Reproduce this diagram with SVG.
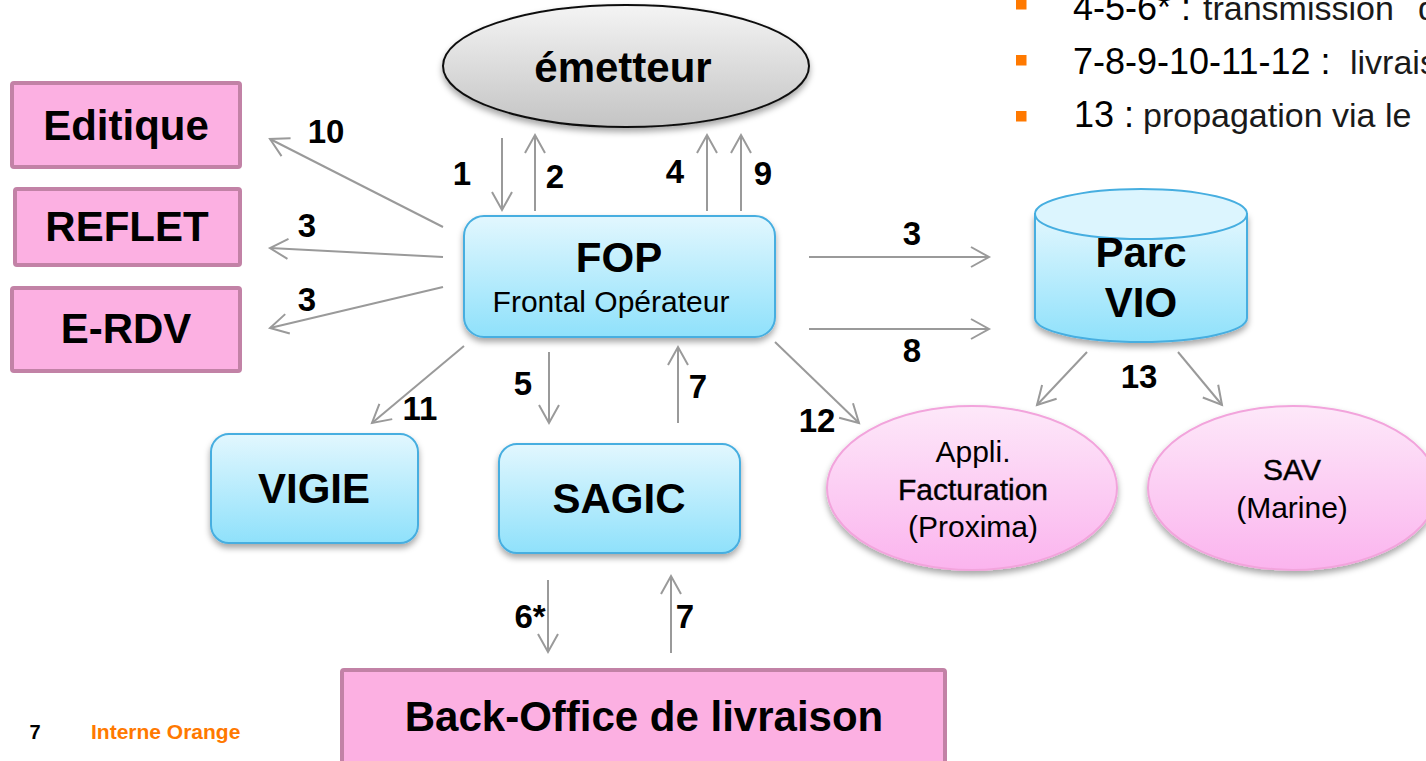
<svg xmlns="http://www.w3.org/2000/svg" width="1426" height="761" viewBox="0 0 1426 761">
<defs>
<linearGradient id="gCyan" x1="0" y1="0" x2="0" y2="1"><stop offset="0" stop-color="#e2f7fe"/><stop offset="1" stop-color="#8fe1fb"/></linearGradient>
<linearGradient id="gPink" x1="0" y1="0" x2="0" y2="1"><stop offset="0" stop-color="#fde8f9"/><stop offset="1" stop-color="#fbb4ee"/></linearGradient>
<linearGradient id="gGrey" x1="0" y1="0" x2="0" y2="1"><stop offset="0" stop-color="#f4f4f4"/><stop offset="1" stop-color="#c4c4c4"/></linearGradient>
<filter id="sh" x="-10%" y="-10%" width="120%" height="130%"><feDropShadow dx="0" dy="4" stdDeviation="3" flood-color="#000" flood-opacity="0.35"/></filter>
<marker id="ah" markerUnits="userSpaceOnUse" markerWidth="24" markerHeight="24" viewBox="-20 -12 22 24" refX="0" refY="0" orient="auto"><path d="M-18,-10 L0,0 L-18,10" fill="none" stroke="#9a9a9a" stroke-width="2"/></marker>
</defs>
<style>
.pinkbox{fill:#fcb0e2;stroke:#c282a6;stroke-width:4}
.cyan{fill:url(#gCyan);stroke:#46aee0;stroke-width:2;filter:url(#sh)}
.pell{fill:url(#gPink);stroke:#f2a4dc;stroke-width:2;filter:url(#sh)}
.lbl{font-family:"Liberation Sans",Arial,sans-serif;font-weight:bold;font-size:42px;fill:#000;text-anchor:middle}
.sub{font-family:"Liberation Sans",Arial,sans-serif;font-size:30px;fill:#000;text-anchor:middle}
.med{stroke:#000;stroke-width:0.4}
.num{font-family:"Liberation Sans",Arial,sans-serif;font-weight:bold;font-size:33px;fill:#000;text-anchor:middle}
.conn line{stroke:#9a9a9a;stroke-width:2;marker-end:url(#ah)}
.leg{font-family:"Liberation Sans",Arial,sans-serif;font-size:36px;fill:#000}
.legd{font-size:34px;fill:#1a1a1a}
.bul{fill:#ff7900}
</style>
<rect width="1426" height="761" fill="#fff"/>

<g id="legend">
<rect class="bul" x="1016" y="-1" width="10.5" height="10.5"/>
<rect class="bul" x="1016" y="55" width="10.5" height="10.5"/>
<rect class="bul" x="1016" y="111" width="10.5" height="10.5"/>
<text class="leg" x="1073" y="20">4-5-6* :<tspan class="legd" x="1203">transmission</tspan><tspan class="legd" x="1418">d</tspan></text>
<text class="leg" x="1073" y="74">7-8-9-10-11-12 :<tspan class="legd" x="1350">livrais</tspan></text>
<text class="leg" x="1074" y="127">13 :<tspan class="legd" x="1143">propagation via le</tspan></text>
</g>

<g id="emetteur">
<ellipse cx="626" cy="66" rx="183" ry="61" fill="url(#gGrey)" stroke="#111" stroke-width="2" filter="url(#sh)"/>
<text class="lbl" x="623" y="82">émetteur</text>
</g>

<g id="editique">
<rect class="pinkbox" x="12" y="83" width="228" height="84" rx="2"/>
<text class="lbl" x="126" y="140">Editique</text>
</g>
<g id="reflet">
<rect class="pinkbox" x="15" y="189" width="225" height="76" rx="2"/>
<text class="lbl" x="127" y="241">REFLET</text>
</g>
<g id="erdv">
<rect class="pinkbox" x="12" y="288" width="228" height="83" rx="2"/>
<text class="lbl" x="126" y="343">E-RDV</text>
</g>

<g id="fop">
<rect class="cyan" x="464" y="216" width="311" height="121" rx="20"/>
<text class="lbl" x="619" y="272">FOP</text>
<text class="sub" x="611" y="312">Frontal Opérateur</text>
</g>

<g id="parcvio">
<path class="cyan" d="M1035,214 L1035,318 A106,24 0 0 0 1247,318 L1247,214 Z"/>
<ellipse cx="1141" cy="214" rx="106" ry="25" fill="#dcf5fe" stroke="#46aee0" stroke-width="2"/>
<text class="lbl" x="1141" y="267">Parc</text>
<text class="lbl" x="1141" y="317">VIO</text>
</g>

<g id="vigie">
<rect class="cyan" x="211" y="434" width="207" height="109" rx="18"/>
<text class="lbl" x="314" y="503">VIGIE</text>
</g>

<g id="sagic">
<rect class="cyan" x="499" y="444" width="241" height="109" rx="18"/>
<text class="lbl" x="619" y="513">SAGIC</text>
</g>

<g id="facturation">
<ellipse class="pell" cx="972" cy="488" rx="145" ry="82"/>
<text class="sub" x="973" y="462">Appli.</text>
<text class="sub med" x="973" y="500">Facturation</text>
<text class="sub" x="973" y="537">(Proxima)</text>
</g>

<g id="sav">
<ellipse class="pell" cx="1293" cy="488" rx="145" ry="82"/>
<text class="sub med" x="1292" y="480">SAV</text>
<text class="sub" x="1292" y="518">(Marine)</text>
</g>

<g id="backoffice">
<rect class="pinkbox" x="342" y="670" width="603" height="100" rx="2"/>
<text class="lbl" x="644" y="731">Back-Office de livraison</text>
</g>

<g id="connectors" class="conn">
<line x1="502" y1="138" x2="502" y2="210"/>
<line x1="535" y1="211" x2="535" y2="135"/>
<line x1="707" y1="211" x2="707" y2="135"/>
<line x1="741" y1="211" x2="741" y2="135"/>
<line x1="443" y1="227" x2="270" y2="139"/>
<line x1="443" y1="257" x2="270" y2="248"/>
<line x1="443" y1="287" x2="270" y2="328"/>
<line x1="809" y1="257" x2="989" y2="257"/>
<line x1="809" y1="329" x2="989" y2="329"/>
<line x1="464" y1="346" x2="372" y2="423"/>
<line x1="549" y1="352" x2="549" y2="423"/>
<line x1="678" y1="423" x2="678" y2="347"/>
<line x1="775" y1="342" x2="859" y2="423"/>
<line x1="1087" y1="352" x2="1037" y2="405"/>
<line x1="1178" y1="352" x2="1222" y2="405"/>
<line x1="548" y1="580" x2="548" y2="652"/>
<line x1="671" y1="653" x2="671" y2="576"/>
</g>

<g id="labels">
<text class="num" x="326" y="143">10</text>
<text class="num" x="307" y="237">3</text>
<text class="num" x="307" y="311">3</text>
<text class="num" x="462" y="185">1</text>
<text class="num" x="555" y="188">2</text>
<text class="num" x="675" y="183">4</text>
<text class="num" x="763" y="185">9</text>
<text class="num" x="912" y="245">3</text>
<text class="num" x="912" y="362">8</text>
<text class="num" x="1139" y="388">13</text>
<text class="num" x="523" y="395">5</text>
<text class="num" x="698" y="398">7</text>
<text class="num" x="420" y="420">11</text>
<text class="num" x="817" y="432">12</text>
<text class="num" x="530" y="628">6*</text>
<text class="num" x="685" y="628">7</text>
</g>

<g id="footer">
<text x="35" y="739" font-family="'Liberation Sans',Arial,sans-serif" font-weight="bold" font-size="20" text-anchor="middle" fill="#000">7</text>
<text x="91" y="739" font-family="'Liberation Sans',Arial,sans-serif" font-weight="bold" font-size="21" fill="#ff7900">Interne Orange</text>
</g>
</svg>
